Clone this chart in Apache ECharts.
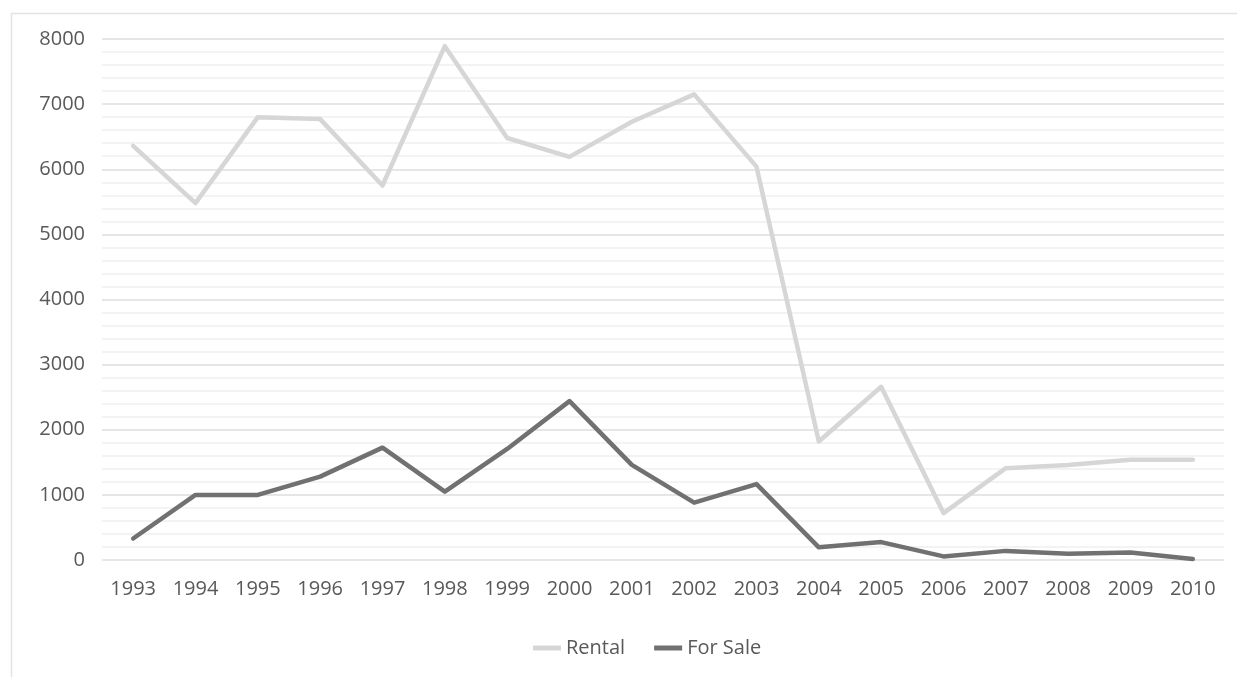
<!DOCTYPE html>
<html>
<head>
<meta charset="utf-8">
<style>
  html, body { margin: 0; padding: 0; background: #ffffff; }
  #chart { width: 1237px; height: 677px; }
</style>
<script src="https://cdn.jsdelivr.net/npm/echarts@6/dist/echarts.min.js"></script>
</head>
<body>
<div id="chart"></div>
<script>
// Housing units per year
const years = ['1993','1994','1995','1996','1997','1998','1999','2000','2001','2002',
               '2003','2004','2005','2006','2007','2008','2009','2010'];
const rental = [6360, 5480, 6800, 6770, 5750, 7890, 6480, 6190, 6730, 7150,
                6040, 1820, 2660, 720, 1410, 1460, 1540, 1540];
const forSale = [330, 1000, 1000, 1280, 1725, 1050, 1705, 2440, 1460, 880,
                 1165, 195, 275, 55, 140, 95, 115, 15];
const yTicks = { min: 0, max: 8000, step: 1000 };

const labelFont = '"Open Sans", "Liberation Sans", sans-serif';
const chart = echarts.init(document.getElementById('chart'));

chart.setOption({
  backgroundColor: '#ffffff',
  animation: false,
  graphic: [{
    type: 'rect',
    shape: { x: 11.5, y: 13.5, width: 1300, height: 700 },
    style: { fill: 'none', stroke: '#e3e3e3', lineWidth: 1.5 },
    silent: true
  }],
  grid: { left: 102, right: 13, top: 39, bottom: 117 },
  legend: {
    bottom: 14,
    left: 528,
    icon: 'rect',
    itemWidth: 28,
    itemHeight: 5,
    itemGap: 29,
    textStyle: { color: '#595959', fontSize: 20, fontFamily: labelFont },
    data: ['Rental', 'For Sale']
  },
  xAxis: {
    type: 'category',
    data: years,
    boundaryGap: true,
    axisLine: { show: false },
    axisTick: { show: false },
    axisLabel: { color: '#595959', fontSize: 20, fontFamily: labelFont, margin: 19 }
  },
  yAxis: {
    type: 'value',
    min: yTicks.min,
    max: yTicks.max,
    interval: yTicks.step,
    axisLine: { show: false },
    axisTick: { show: false },
    axisLabel: {
      color: '#595959', fontSize: 20, fontFamily: labelFont, margin: 17,
      formatter: (v) => String(v)
    },
    splitLine: { lineStyle: { color: '#dedede', width: 1.5 } },
    minorTick: { show: false, splitNumber: 5 },
    minorSplitLine: { show: true, lineStyle: { color: '#efefef', width: 1.5 } }
  },
  series: [
    {
      name: 'Rental',
      type: 'line',
      data: rental,
      symbol: 'none',
      itemStyle: { color: '#d6d6d6' },
      lineStyle: { color: '#d6d6d6', width: 4.5, cap: 'round', join: 'round' }
    },
    {
      name: 'For Sale',
      type: 'line',
      data: forSale,
      symbol: 'none',
      itemStyle: { color: '#717171' },
      lineStyle: { color: '#717171', width: 4.5, cap: 'round', join: 'round' }
    }
  ]
});
</script>
</body>
</html>
